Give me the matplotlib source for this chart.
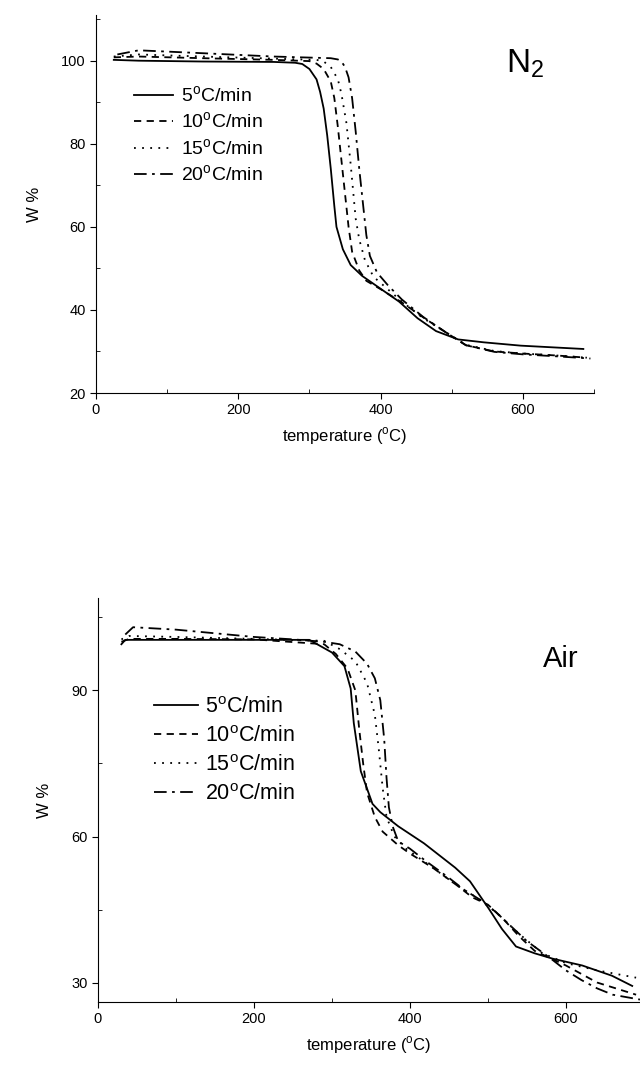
import numpy as np
import matplotlib
matplotlib.use('Agg')
import matplotlib.pyplot as plt
from matplotlib.ticker import MultipleLocator

plt.rcParams['font.family'] = ['Liberation Sans', 'DejaVu Sans']
plt.rcParams['mathtext.fontset'] = 'custom'
plt.rcParams['mathtext.rm'] = 'Liberation Sans'

labels = ['5$^{\\mathrm{o}}$C/min', '10$^{\\mathrm{o}}$C/min',
          '15$^{\\mathrm{o}}$C/min', '20$^{\\mathrm{o}}$C/min']

# N2 atmosphere, TGA curves (temperature in C, weight %)
n2_t5 = [25, 60, 150, 250, 280, 290, 300, 310, 315, 320, 325, 330, 335, 338, 347, 358,
         374, 400, 426, 452, 478, 509, 545, 597, 685]
n2_w5 = [100.2, 100.0, 99.8, 99.7, 99.5, 99.2, 98.0, 95.5, 92.5, 88.5, 82, 74, 65, 60,
         54.6, 50.8, 48.2, 45.1, 42.0, 38.0, 34.9, 32.9, 32.2, 31.4, 30.6]
n2_t10 = [25, 60, 150, 250, 300, 310, 320, 330, 335, 340, 345, 350, 355, 360, 370, 380,
          400, 430, 460, 490, 520, 560, 600, 650, 690]
n2_w10 = [100.8, 101.0, 100.6, 100.2, 99.9, 99.3, 98.0, 95.0, 91, 84, 76, 68, 60, 54,
          49.5, 47, 45, 41.8, 38.2, 34.8, 31.5, 30.0, 29.5, 29.0, 28.5]
n2_t15 = [25, 60, 150, 250, 310, 320, 330, 340, 345, 352, 358, 365, 370, 378, 390, 410,
          430, 460, 490, 520, 560, 600, 650, 690]
n2_w15 = [101.0, 101.5, 101.0, 100.5, 100.2, 99.8, 98.5, 95.5, 92, 85, 75, 62, 57, 52,
          48, 45, 42, 38, 34.8, 31.6, 30.1, 29.5, 29.0, 28.5]
n2_t20 = [30, 60, 150, 250, 330, 340, 345, 350, 355, 360, 365, 370, 375, 380, 385, 395,
          410, 430, 460, 490, 520, 560, 600, 650, 695]
n2_w20 = [101.5, 102.5, 101.8, 101.0, 100.6, 100.3, 99.8, 98.5, 96, 91, 83, 74, 66, 58,
          53, 49, 46, 42.5, 38.3, 34.8, 31.5, 29.9, 29.3, 28.8, 28.3]

# Air atmosphere
air_t5 = [30, 35, 100, 200, 271, 300, 316, 324, 328, 337, 352, 362, 385, 418, 458, 477,
          501, 518, 536, 560, 583, 621, 659, 685]
air_w5 = [99.5, 100.4, 100.4, 100.4, 100.4, 97.8, 95.0, 90.4, 83.3, 73.4, 66.7, 65.0,
          62.1, 58.6, 53.6, 50.8, 45.2, 41.0, 37.4, 36.0, 34.9, 33.5, 31.4, 29.3]
air_t10 = [30, 40, 100, 200, 290, 305, 320, 330, 335, 340, 345, 355, 365, 385, 400, 430,
           460, 480, 500, 520, 540, 560, 600, 640, 690]
air_w10 = [100.0, 100.6, 100.6, 100.5, 99.5, 97.5, 94.5, 90, 82, 75, 69, 64, 61, 58.2,
           56.5, 53.5, 50, 47.5, 46, 43, 39.5, 36.5, 33.5, 30, 27.5]
air_t15 = [30, 40, 100, 200, 290, 310, 330, 345, 355, 360, 365, 370, 380, 395, 430, 460,
           490, 510, 540, 570, 600, 640, 690]
air_w15 = [100.5, 101.2, 101.0, 100.6, 100.2, 98.5, 96, 91.5, 85, 78, 70, 64, 60, 57.5,
           53.5, 50, 47, 44.5, 40, 36, 34, 32.5, 31]
air_t20 = [35, 45, 100, 200, 250, 290, 310, 330, 345, 355, 362, 367, 370, 373, 378, 385,
           400, 420, 450, 470, 490, 510, 530, 550, 580, 600, 620, 640, 660, 695]
air_w20 = [101.5, 103.0, 102.5, 101.0, 100.5, 100.0, 99.5, 98.0, 95.5, 92.5, 88, 80, 72,
           66, 62, 59, 57.5, 55, 51.5, 49, 47, 44.5, 41.5, 38.5, 35, 32.5, 30.5, 28.8,
           27.5, 26.5]

styles = [dict(linestyle='-'),
          dict(linestyle=(0, (4, 3))),
          dict(linestyle=(0, (1, 3.5))),
          dict(linestyle=(0, (7, 3, 1.5, 3)))]

fig = plt.figure(figsize=(6.4, 10.66), dpi=100)
ax1 = fig.add_axes([96 / 640, 1 - 393 / 1066, (594 - 96) / 640, (393 - 15) / 1066])
ax2 = fig.add_axes([98 / 640, 1 - 1002 / 1066, (640 - 98) / 640, (1002 - 598) / 1066])

n2 = [(n2_t5, n2_w5), (n2_t10, n2_w10), (n2_t15, n2_w15), (n2_t20, n2_w20)]
air = [(air_t5, air_w5), (air_t10, air_w10), (air_t15, air_w15), (air_t20, air_w20)]

for ax, series in [(ax1, n2), (ax2, air)]:
    for (t, w), st, lab in zip(series, styles, labels):
        ax.plot(t, w, color='black', linewidth=1.3, label=lab, **st)
    for s in ['top', 'right']:
        ax.spines[s].set_visible(False)
    ax.tick_params(which='major', direction='out', length=4, labelsize=10.5)
    ax.tick_params(which='minor', direction='in', length=3)
    ax.xaxis.set_major_locator(MultipleLocator(200))
    ax.xaxis.set_minor_locator(MultipleLocator(100))
    ax.set_xlabel('temperature ($^{\\mathrm{o}}$C)', fontsize=12, labelpad=6)
    ax.set_ylabel('W %', fontsize=12, labelpad=14)

ax1.set_xlim(0, 700)
ax1.set_ylim(20, 111)
ax1.yaxis.set_major_locator(MultipleLocator(20))
ax1.yaxis.set_minor_locator(MultipleLocator(10))
ax1.legend(loc='upper left', bbox_to_anchor=(0.076, 0.815), frameon=False, fontsize=14,
           handlelength=2.0, handletextpad=0.4, labelspacing=0.3, borderpad=0,
           borderaxespad=0)
ax1.text(577, 97.3, 'N$_2$', fontsize=24, ha='left', va='baseline')

ax2.set_xlim(0, 695)
ax2.set_ylim(26, 109)
ax2.yaxis.set_major_locator(MultipleLocator(30))
ax2.yaxis.set_minor_locator(MultipleLocator(15))
ax2.legend(loc='upper left', bbox_to_anchor=(0.103, 0.755), frameon=False, fontsize=15.5,
           handlelength=2.05, handletextpad=0.33, labelspacing=0.37, borderpad=0,
           borderaxespad=0)
ax2.text(570, 94.8, 'Air', fontsize=21, ha='left', va='baseline')

fig.savefig('out.png', dpi=100)
